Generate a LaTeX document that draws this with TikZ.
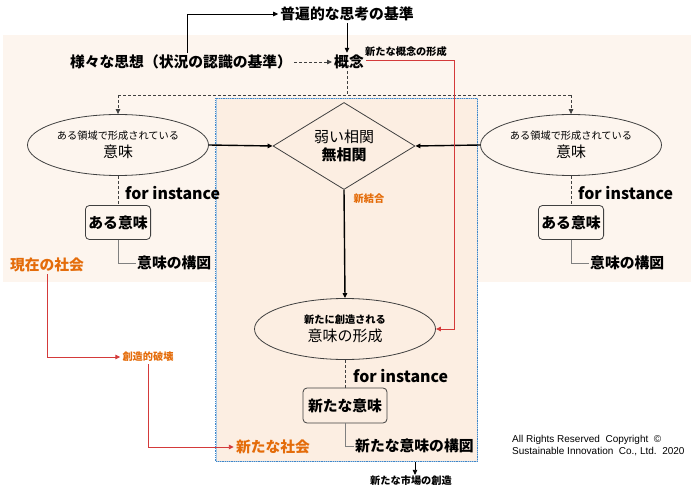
\documentclass[tikz,border=0pt]{standalone}
\usepackage{fontspec}
\setmainfont{Noto Sans CJK JP}
\newfontfamily\cpfont{Liberation Sans}
\usetikzlibrary{shapes.geometric,arrows.meta,calc}
\definecolor{bgl}{HTML}{FDF5EE}
\definecolor{bgd}{HTML}{FCEEE2}
\definecolor{orng}{HTML}{E46C0A}
\definecolor{redl}{HTML}{D43A3A}
\definecolor{bluedot}{HTML}{3F86C8}
\definecolor{dgray}{HTML}{404040}
\newcommand\setfs[1]{\fontsize{#1}{#1}\selectfont}
\tikzset{
  tip/.style={-{Triangle[length=5pt,width=4.5pt]}},
  blk/.style={line width=0.8pt,black},
  blkarr/.style={blk,tip},
  thk/.style={line width=1.4pt,black,tip},
  dsh/.style={line width=0.8pt,dgray,dash pattern=on 3pt off 2pt},
  dsharr/.style={dsh,tip},
  redarr/.style={line width=0.9pt,redl,tip},
  redln/.style={line width=0.9pt,redl},
  gline/.style={line width=0.7pt,gray},
  ell/.style={ellipse,draw=dgray,line width=0.8pt,minimum width=181pt,minimum height=61pt,inner sep=0pt,align=center},
  dia/.style={diamond,draw=dgray,line width=0.8pt,aspect=1.65,minimum width=142pt,minimum height=87pt,inner sep=0pt,align=center},
  ibox/.style={draw=dgray,line width=0.8pt,rounded corners=4pt,minimum height=34pt,inner sep=3pt},
  big/.style={font=\bfseries\setfs{14.8}},
  small/.style={font=\bfseries\setfs{10.2}},
  fi/.style={font=\bfseries\setfs{15.9},anchor=west,inner sep=0pt},
  ort/.style={text=orng},
}
\begin{document}
\begin{tikzpicture}[x=1pt,y=-1pt]
\useasboundingbox (0,0) rectangle (700,494);
\fill[bgl] (3,35) rectangle (691,282);
\node[draw=bluedot!45,fill=bgd,line width=1pt,minimum width=261pt,minimum height=362pt,inner sep=0pt] (I) at (346.5,280) {};
\draw[bluedot,line width=1pt,dash pattern=on 0.9pt off 0.9pt] (I.north west) rectangle (I.south east);

% top texts
\node[big,inner sep=2pt] (F) at (347,14) {普遍的な思考の基準};
\node[big,inner sep=2pt] (S) at (181,62) {様々な思想（状況の認識の基準）};
\node[big,inner sep=2pt] (K) at (349,62) {概念};
\node[small,inner sep=1pt] (NK) at (406,52) {新たな概念の形成};
\coordinate (c1) at (187,40);
\draw[blkarr] (S.north -| c1) |- (F.west);
\draw[blkarr] (F.south -| 347,0) -- (K.north -| 347,0);
\draw[dsharr] (S.east) -- (K.west);

% ellipses and diamond
\node[ell] (L) at (118,145) {{\setfs{10.2}ある領域で形成されている}\\[3pt]{\setfs{15}意味}};
\node[ell] (R) at (571,145) {{\setfs{10.2}ある領域で形成されている}\\[3pt]{\setfs{15}意味}};
\node[dia] (D) at (344,146) {{\setfs{15}弱い相関}\\[3pt]{\bfseries\setfs{15}無相関}};
\node[ell] (N) at (345,329) {{\bfseries\setfs{10.2}新たに創造される}\\[3pt]{\setfs{15}意味の形成}};

% dashed distribution
\coordinate (hub) at (347,95);
\draw[dsh] (K.south -| hub) -- (hub);
\draw[dsh] (hub -| L.north) -- (hub -| R.north);
\draw[dsharr] (hub -| L.north) -- (L.north);
\draw[dsharr] (hub -| R.north) -- (R.north);

% main arrows
\draw[thk] (L.east) -- (D.west);
\draw[thk] (R.west) -- (D.east);
\draw[thk] (D.south) -- (N.north);
\node[small,ort,inner sep=0pt] (NJ) at (369,199) {新結合};

% red concept line
\coordinate (r1) at (454,60);
\draw[redarr] (K.east |- r1) -- (r1) |- (N.east);

% left branch
\node[ibox,big] (B1) at (118,222.5) {ある意味};
\draw[dsh] (L.south) -- (B1.north);
\node[fi] (FI1) at (125,193) {for instance};
\node[big,anchor=west,inner sep=1pt] (M1) at (136,263) {意味の構図};
\draw[gline] (B1.south) |- (M1.west);

% right branch
\node[ibox,big] (B2) at (571,222.5) {ある意味};
\draw[dsh] (R.south) -- (B2.north);
\node[fi] (FI2) at (578,193) {for instance};
\node[big,anchor=west,inner sep=1pt] (M2) at (589,263) {意味の構図};
\draw[gline] (B2.south) |- (M2.west);

% bottom branch
\node[ibox,big,minimum width=84pt,minimum height=35pt] (B3) at (345,405.5) {新たな意味};
\draw[dsh] (N.south) -- (B3.north);
\node[fi] (FI3) at (353,376) {for instance};
\node[big,anchor=west,inner sep=1pt] (M3) at (354,446) {新たな意味の構図};
\draw[gline] (B3.south) |- (M3.west);

% society
\node[big,ort,inner sep=2pt] (G) at (47,265) {現在の社会};
\node[small,ort,inner sep=2pt] (H) at (148,357) {創造的破壊};
\node[big,ort,inner sep=2pt] (NS) at (273,447) {新たな社会};
\draw[redarr] (G.south) |- (H.west);
\draw[redarr] (H.south) |- (NS.west);

% market
\node[small,inner sep=1pt] (MK) at (411,481) {新たな市場の創造};
\draw[blkarr] (I.south -| 415,0) -- (MK.north -| 415,0);

% copyright
\node[anchor=north west,align=left,inner sep=0pt,font=\cpfont\fontsize{10}{12.5}\selectfont] (CP) at (512,435) {All Rights Reserved\ \ Copyright\ \ ©\\Sustainable Innovation\ \ Co., Ltd.\ \ 2020};
\end{tikzpicture}
\end{document}
